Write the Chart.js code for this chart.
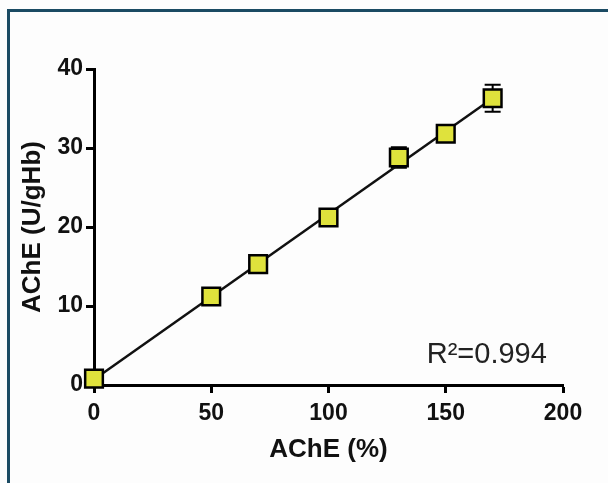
<!DOCTYPE html>
<html>
<head>
<meta charset="utf-8">
<script src="https://cdn.jsdelivr.net/npm/chart.js@4"></script>
<style>
  html, body { margin: 0; padding: 0; background: #fdfdfd; }
  #wrap { position: relative; width: 608px; height: 483px; overflow: hidden; }
  #frame {
    position: absolute; left: 7px; top: 9px; width: 620px; height: 500px;
    border-top: 3px solid #1b4b63; border-left: 3px solid #1b4b63;
  }
  canvas { position: absolute; left: 0; top: 0; }
</style>
</head>
<body>
<div id="wrap">
  <div id="frame"></div>
  <canvas id="fitChart" width="608" height="483"></canvas>
</div>
<script>
const doseX = [0, 50, 70, 100, 130, 150, 170];
const acheY = [0.8, 11.2, 15.3, 21.2, 28.8, 31.8, 36.3];
const acheErr = [0, 0, 0, 0, 1.3, 0, 1.7];

// regression line end points
const fitX = [0, 170];
const fitY = [0.7, 36.3];

// axis ticks
const xTicks = [0, 50, 100, 150, 200];
const yTicks = [0, 10, 20, 30, 40];

const r2Label = 'R\u00b2=0.994';
const r2Pos = { x: 167.5, y: 2.8 };

const tickFont = { family: 'Liberation Sans, Arial, sans-serif', size: 23, weight: 'bold' };
const titleFont = { family: 'Liberation Sans, Arial, sans-serif', size: 26, weight: 'bold' };

// draws the error bars under the markers, and the R² note
const errorBars = {
    id: 'errorBars',
    beforeDatasetsDraw(chart) {
        const { ctx, scales: { x, y } } = chart;
        ctx.save();
        ctx.strokeStyle = '#000';
        ctx.lineWidth = 2;
        doseX.forEach((dx, i) => {
            if (!acheErr[i]) return;
            const px = x.getPixelForValue(dx);
            const top = y.getPixelForValue(acheY[i] + acheErr[i]);
            const bot = y.getPixelForValue(acheY[i] - acheErr[i]);
            ctx.beginPath();
            ctx.moveTo(px, top); ctx.lineTo(px, bot);
            ctx.moveTo(px - 8, top); ctx.lineTo(px + 8, top);
            ctx.moveTo(px - 8, bot); ctx.lineTo(px + 8, bot);
            ctx.stroke();
        });
        ctx.restore();
    },
    afterDraw(chart) {
        const { ctx, scales: { x, y } } = chart;
        ctx.save();
        ctx.font = '29px Liberation Sans, Arial, sans-serif';
        ctx.fillStyle = '#222';
        ctx.textAlign = 'center';
        ctx.textBaseline = 'alphabetic';
        ctx.fillText(r2Label, x.getPixelForValue(r2Pos.x), y.getPixelForValue(r2Pos.y));
        ctx.restore();
    }
};

const data = {
    datasets: [{
        type: 'scatter',
        label: 'AChE',
        data: doseX.map((v, i) => ({ x: v, y: acheY[i] })),
        pointStyle: 'rect',
        pointRadius: 12.5,
        pointHoverRadius: 12.5,
        pointBackgroundColor: '#dfe23c',
        pointBorderColor: '#000',
        pointBorderWidth: 2.5,
        clip: false,
        order: 0
    }, {
        type: 'line',
        label: 'fit',
        data: fitX.map((v, i) => ({ x: v, y: fitY[i] })),
        borderColor: '#111',
        borderWidth: 2.5,
        pointRadius: 0,
        fill: false,
        clip: false,
        order: 1
    }]
};

const axisGrid = {
    display: true,
    drawOnChartArea: false,
    drawTicks: true,
    tickLength: 8,
    tickWidth: 3,
    tickColor: '#000'
};

new Chart(document.getElementById('fitChart'), {
    type: 'scatter',
    data: data,
    options: {
        responsive: false,
        devicePixelRatio: 1,
        animation: false,
        layout: { padding: { left: 10, top: 69, right: 45, bottom: 0 } },
        plugins: { legend: { display: false }, tooltip: { enabled: false } },
        scales: {
            x: {
                type: 'linear',
                min: 0, max: 200,
                afterBuildTicks: s => { s.ticks = xTicks.map(v => ({ value: v })); },
                afterFit: s => { s.height = 98; },
                grid: axisGrid,
                border: { display: true, width: 3, color: '#000' },
                ticks: { font: tickFont, color: '#111', padding: 7, maxRotation: 0 },
                title: { display: true, text: 'AChE (%)', font: titleFont, color: '#111', padding: { bottom: 18 } }
            },
            y: {
                type: 'linear',
                min: 0, max: 40,
                afterBuildTicks: s => { s.ticks = yTicks.map(v => ({ value: v })); },
                afterFit: s => { s.width = 84; },
                grid: axisGrid,
                border: { display: true, width: 3, color: '#000' },
                ticks: { font: tickFont, color: '#111', padding: 3 },
                title: { display: true, text: 'AChE (U/gHb)', font: titleFont, color: '#111', padding: { top: 7 } }
            }
        }
    },
    plugins: [errorBars]
});
</script>
</body>
</html>
